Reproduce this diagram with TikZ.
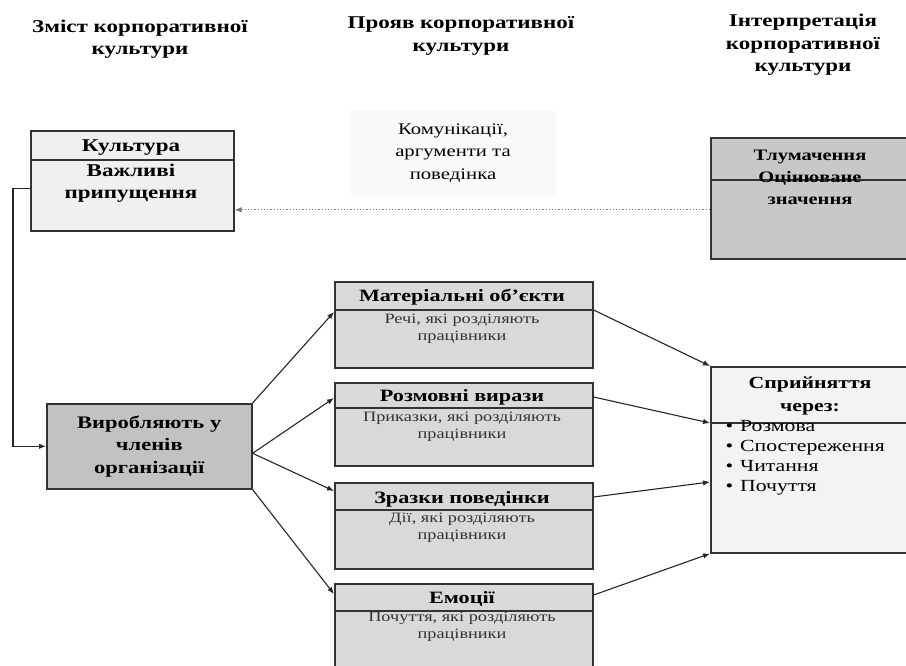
\documentclass[tikz,border=0pt]{standalone}
\usepackage{fontspec}
\setmainfont{Liberation Serif}[FakeStretch=1.28]
\usetikzlibrary{arrows.meta,positioning,calc}
\definecolor{boxLine}{HTML}{333333}
\definecolor{paleFill}{HTML}{F0F0F0}
\definecolor{percFill}{HTML}{F3F3F3}
\definecolor{midFill}{HTML}{D9D9D9}
\definecolor{darkFill}{HTML}{C2C2C2}
\definecolor{tlumFill}{HTML}{C8C8C8}
\definecolor{commFill}{HTML}{FAFAFA}

\begin{document}
\begin{tikzpicture}[x=1pt, y=-1pt, >={Latex[length=7pt,width=5.5pt]},
  panel/.style={draw=boxLine,line width=1.6pt,inner sep=0pt,anchor=north west},
  divider/.style={draw=boxLine,line width=1.3pt},
  colhead/.style={font=\fontsize{18}{22.5}\selectfont\bfseries,align=center},
  boxhead/.style={font=\fontsize{17.3}{21}\selectfont\bfseries,align=center},
  boxbody/.style={font=\fontsize{14.3}{17}\selectfont,text=boxLine,align=center},
  arr/.style={->,line width=1.1pt,draw=black!85}]
\clip (0,0) rectangle (906,666);
% --- column titles ---
\node[colhead] (t1) at (140,39) {Зміст корпоративної\\культури};
\node[colhead] (t2) at (461,36) {Прояв корпоративної\\культури};
\node[colhead] (t3) at (803,45) {Інтерпретація\\корпоративної\\культури};
% --- top row ---
\node[panel,fill=paleFill,minimum width=203pt,minimum height=100pt] (cult) at (30,130) {};
\draw[divider] ([yshift=-30pt]cult.north west) -- ([yshift=-30pt]cult.north east);
\node[font=\fontsize{18}{22}\selectfont\bfseries] (cultH) at (131,148) {Культура};
\node[font=\fontsize{18}{22}\selectfont\bfseries,align=center] (cultB) at (131,183) {Важливі\\припущення};
\node[fill=commFill,minimum width=206pt,minimum height=86pt,inner sep=0pt,
  font=\fontsize{16.2}{22.5}\selectfont,align=center] (comm) at (453,153) {Комунікації,\\аргументи та\\поведінка};
\node[panel,fill=tlumFill,minimum width=220pt,minimum height=121pt] (tlum) at (710,137) {};
\draw[divider] ([yshift=-43pt]tlum.north west) -- ([yshift=-43pt]tlum.north east);
\node[font=\fontsize{16}{22}\selectfont\bfseries,align=center] (tlumT) at (810,177) {Тлумачення\\Оцінюване\\значення};
\draw[->,line width=1.2pt,draw=black!55,dotted] ([yshift=-11.5pt]tlum.west) -- ([yshift=-29pt]cult.east);
% --- producer ---
\node[panel,fill=darkFill,minimum width=205pt,minimum height=85pt,
  font=\fontsize{17.6}{22.5}\selectfont\bfseries,align=center,text width=200pt] (vyr) at (46,403) {Виробляють у\\членів\\організації};
\draw[arr] ([yshift=-8pt]cult.west) -- ++(-17,0) |- (vyr.west);
% --- manifestations ---
\node[panel,fill=midFill,minimum width=258pt,minimum height=86pt] (mat) at (334,281) {};
\node[panel,fill=midFill,minimum width=258pt,minimum height=83pt] (roz) at (334,382) {};
\node[panel,fill=midFill,minimum width=258pt,minimum height=86pt] (zraz) at (334,482) {};
\node[panel,fill=midFill,minimum width=258pt,minimum height=100pt] (emo) at (334,583) {};
\draw[divider] ([yshift=-29pt]mat.north west) -- ([yshift=-29pt]mat.north east);
\draw[divider] ([yshift=-26pt]roz.north west) -- ([yshift=-26pt]roz.north east);
\draw[divider] ([yshift=-28pt]zraz.north west) -- ([yshift=-28pt]zraz.north east);
\draw[divider] ([yshift=-28pt]emo.north west) -- ([yshift=-28pt]emo.north east);
\node[boxhead] (matH) at (462,297) {Матеріальні об’єкти};
\node[boxbody] (matB) at (462,329) {Речі, які розділяють\\працівники};
\node[boxhead] (rozH) at (462,397) {Розмовні вирази};
\node[boxbody] (rozB) at (462,427) {Приказки, які розділяють\\працівники};
\node[boxhead] (zrazH) at (462,499) {Зразки поведінки};
\node[boxbody] (zrazB) at (462,528) {Дії, які розділяють\\працівники};
\node[boxhead] (emoH) at (462,599) {Емоції};
\node[boxbody] (emoB) at (462,627) {Почуття, які розділяють\\працівники};
\draw[arr] (vyr.north east) -- ([yshift=-31pt]mat.north west);
\draw[arr] ([yshift=-7pt]vyr.east) -- ([yshift=-16pt]roz.north west);
\draw[arr] ([yshift=-7pt]vyr.east) -- ([yshift=-9pt]zraz.north west);
\draw[arr] (vyr.south east) -- ([yshift=-11pt]emo.north west);
% --- perception ---
\node[panel,fill=percFill,minimum width=220pt,minimum height=186pt] (perc) at (710,366) {};
\draw[divider] ([yshift=-57pt]perc.north west) -- ([yshift=-57pt]perc.north east);
\node[font=\fontsize{17}{23}\selectfont\bfseries,align=center] (percH) at (810,396) {Сприйняття\\через:};
\node[font=\fontsize{17}{20}\selectfont,align=left,anchor=north west] (percL) at (722,417)
 {\textbullet\hspace{7pt}Розмова\\\textbullet\hspace{7pt}Спостереження\\\textbullet\hspace{7pt}Читання\\\textbullet\hspace{7pt}Почуття};
\draw[arr] ([yshift=-29pt]mat.north east) -- (perc.north west);
\draw[arr] ([yshift=-15pt]roz.north east) -- ([yshift=-57pt]perc.north west);
\draw[arr] ([yshift=-15pt]zraz.north east) -- ([yshift=-116pt]perc.north west);
\draw[arr] ([yshift=-12pt]emo.north east) -- (perc.south west);
\end{tikzpicture}
\end{document}
